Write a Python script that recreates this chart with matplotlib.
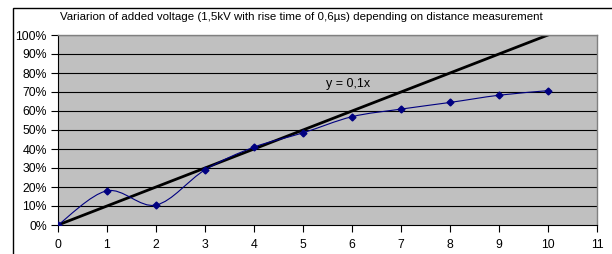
import matplotlib.pyplot as plt
import numpy as np
from matplotlib.path import Path
from matplotlib.patches import PathPatch, Rectangle
from matplotlib.ticker import FuncFormatter

plt.rcParams['font.family'] = ['Liberation Sans', 'DejaVu Sans']

# data
distance = [0, 1, 2, 3, 4, 5, 6, 7, 8, 9, 10]
voltage = [0.0, 0.18, 0.105, 0.29, 0.41, 0.485, 0.57, 0.61, 0.645, 0.683, 0.707]
trend_x = [0, 10]
trend_slope = 0.1
title = "Variarion of added voltage (1,5kV with rise time of 0,6µs) depending on distance measurement"

W, H = 612, 254
fig = plt.figure(figsize=(W / 100, H / 100), dpi=100)
ax = fig.add_axes([58 / W, 1 - 225 / H, (597 - 58) / W, (225 - 35) / H])
ax.set_facecolor('#c0c0c0')

# outer chart border
fig.patches.append(Rectangle((13 / W, -0.1), 1.1, 1 - 8 / H + 0.1, transform=fig.transFigure,
                             fill=False, edgecolor='black', linewidth=1.0))

# grid
for v in np.arange(0.1, 1.01, 0.1):
    ax.axhline(v, color='black', linewidth=0.8, zorder=1)

# smoothed series (excel-like bezier)
pts = np.column_stack([distance, voltage])
verts = [tuple(pts[0])]
codes = [Path.MOVETO]
n = len(pts)
for i in range(n - 1):
    p0 = pts[i - 1] if i > 0 else pts[i]
    p1 = pts[i]
    p2 = pts[i + 1]
    p3 = pts[i + 2] if i + 2 < n else pts[i + 1]
    c1 = p1 + (p2 - p0) / 6
    c2 = p2 - (p3 - p1) / 6
    verts += [tuple(c1), tuple(c2), tuple(p2)]
    codes += [Path.CURVE4] * 3
ax.add_patch(PathPatch(Path(verts, codes), facecolor='none', edgecolor='#000080',
                       linewidth=0.8, zorder=3))
ax.plot(distance, voltage, linestyle='none', marker='D', markersize=3.5,
        color='#000080', zorder=4)

# trend line
ax.plot(trend_x, [trend_slope * x for x in trend_x], color='black', linewidth=2.0, zorder=2)
ax.text(5.92, 0.74, "y = 0,1x", fontsize=9, ha='center', va='center')

ax.set_xlim(0, 11)
ax.set_ylim(0, 1)
ax.set_xticks(range(0, 12))
ax.set_yticks(np.arange(0, 1.01, 0.1))
ax.yaxis.set_major_formatter(FuncFormatter(lambda v, p: f"{v * 100:.0f}%"))
ax.tick_params(axis='both', direction='out', length=5, width=0.8, labelsize=8.8,
               colors='black')
ax.tick_params(axis='x', pad=5)
ax.tick_params(axis='y', pad=3)

for s in ['left', 'bottom']:
    ax.spines[s].set_color('black')
    ax.spines[s].set_linewidth(0.8)
for s in ['top', 'right']:
    ax.spines[s].set_color('#808080')
    ax.spines[s].set_linewidth(1.0)

fig.text(301 / W, 1 - 17 / H, title, fontsize=8.25, ha='center', va='center')

fig.savefig('out.png', dpi=100)
